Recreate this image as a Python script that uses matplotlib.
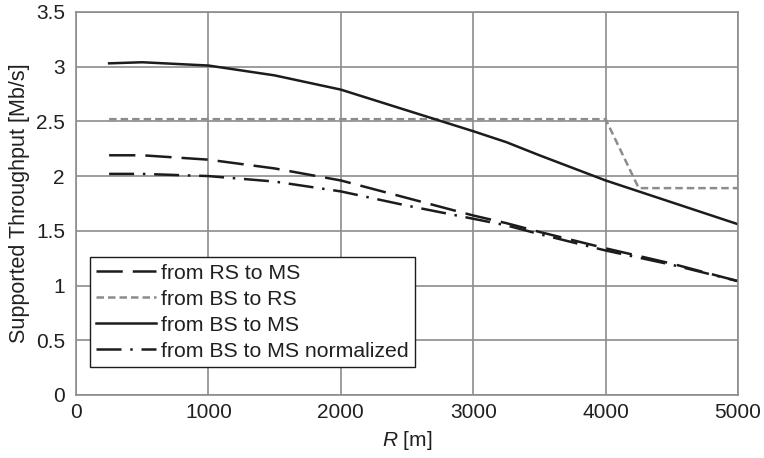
import numpy as np
import matplotlib
matplotlib.use('Agg')
import matplotlib.pyplot as plt
from matplotlib.ticker import FormatStrFormatter, MultipleLocator

plt.rcParams['font.family'] = ['Liberation Sans', 'DejaVu Sans']
plt.rcParams['mathtext.fontset'] = 'custom'
plt.rcParams['mathtext.rm'] = 'Liberation Sans'
plt.rcParams['mathtext.it'] = 'Liberation Sans:italic'

# distance R [m]
r = [250, 500, 1000, 1500, 2000, 2500, 3000, 3250, 3500, 4000, 4500, 5000]

rs_to_ms = [2.19, 2.19, 2.15, 2.07, 1.96, 1.80, 1.64, 1.57, 1.49, 1.34, 1.20, 1.04]
bs_to_ms = [3.03, 3.04, 3.01, 2.92, 2.79, 2.60, 2.41, 2.31, 2.19, 1.96, 1.76, 1.56]
bs_to_ms_norm = [2.02, 2.02, 2.00, 1.95, 1.86, 1.73, 1.61, 1.55, 1.47, 1.32, 1.19, 1.04]

r_rs = [250, 4000, 4250, 5000]
bs_to_rs = [2.52, 2.52, 1.89, 1.89]

black = '#1c1c1c'
gray = '#8c8c8e'
txt = '#231f20'

fig = plt.figure(figsize=(7.64, 4.58), dpi=100)
ax = fig.add_axes([0.0995, 0.1376, 0.8665, 0.8364])

ax.plot(r, rs_to_ms, color=black, lw=1.8, dashes=(10.5, 4), label='from RS to MS')
ax.plot(r_rs, bs_to_rs, color=gray, lw=1.8, dashes=(3, 1.6), label='from BS to RS')
ax.plot(r, bs_to_ms, color=black, lw=1.8, label='from BS to MS')
ax.plot(r, bs_to_ms_norm, color=black, lw=1.8, dashes=(10, 3.5, 1, 3.5),
        label='from BS to MS normalized')

ax.set_xlim(0, 5000)
ax.set_ylim(0, 3.5)
ax.xaxis.set_major_locator(MultipleLocator(1000))
ax.yaxis.set_major_locator(MultipleLocator(0.5))
ax.yaxis.set_major_formatter(FormatStrFormatter('%g'))
ax.grid(True, color=gray, lw=1.2)
ax.set_axisbelow(True)
for s in ax.spines.values():
    s.set_color(gray)
    s.set_linewidth(1.2)
ax.tick_params(length=0, labelsize=15, colors=txt)
ax.tick_params(axis='y', pad=8)
ax.tick_params(axis='x', pad=6)

ax.set_xlabel('$R$ [m]', fontsize=15, color=txt, labelpad=5)
ax.set_ylabel('Supported Throughput [Mb/s]', fontsize=15.5, color=txt, labelpad=4)

leg = ax.legend(loc='lower left', bbox_to_anchor=(0.021, 0.073), borderaxespad=0,
                fontsize=15.3, handlelength=2.8, handletextpad=0.25, labelspacing=0.33,
                fancybox=False, framealpha=1, edgecolor=black, borderpad=0.3)
leg.get_frame().set_linewidth(1.0)
for t in leg.get_texts():
    t.set_color(txt)

fig.savefig('out.png', dpi=100)
